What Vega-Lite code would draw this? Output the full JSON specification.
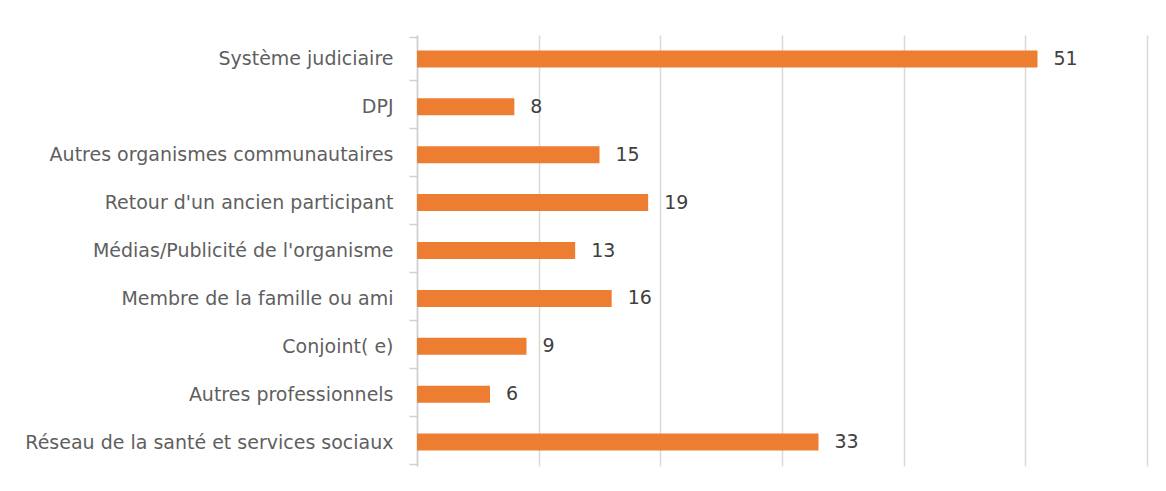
{
  "$schema": "https://vega.github.io/schema/vega-lite/v6.json",
  "width": 730,
  "height": 431,
  "autosize": {"type": "none"},
  "padding": {"left": 417, "top": 35, "right": 19, "bottom": 25},
  "background": "white",
  "config": {"view": {"stroke": null}, "font": "DejaVu Sans"},
  "data": {
    "values": [
      {"source": "Système judiciaire", "count": 51},
      {"source": "DPJ", "count": 8},
      {"source": "Autres organismes communautaires", "count": 15},
      {"source": "Retour d'un ancien participant", "count": 19},
      {"source": "Médias/Publicité de l'organisme", "count": 13},
      {"source": "Membre de la famille ou ami", "count": 16},
      {"source": "Conjoint( e)", "count": 9},
      {"source": "Autres professionnels", "count": 6},
      {"source": "Réseau de la santé et services sociaux", "count": 33}
    ]
  },
  "encoding": {
    "y": {
      "field": "source",
      "type": "nominal",
      "sort": null,
      "title": null,
      "axis": {
        "tickBand": "extent",
        "domainColor": "#d0d0d0",
        "domainWidth": 1.5,
        "tickColor": "#d0d0d0",
        "tickWidth": 1.5,
        "tickSize": 8,
        "labelPadding": 16,
        "labelFontSize": 19,
        "labelColor": "#5f5f5f",
        "labelFont": "DejaVu Sans",
        "labelLimit": 500
      }
    },
    "x": {
      "field": "count",
      "type": "quantitative",
      "scale": {"domain": [0, 60], "nice": false},
      "title": null,
      "axis": {
        "values": [0, 10, 20, 30, 40, 50, 60],
        "grid": true,
        "gridColor": "#d9d9d9",
        "gridWidth": 1.5,
        "labels": false,
        "ticks": false,
        "domain": false
      }
    }
  },
  "layer": [
    {"mark": {"type": "bar", "color": "#ED7D31", "size": 17}},
    {
      "mark": {"type": "text", "align": "left", "baseline": "middle", "dx": 16, "fontSize": 19, "color": "#404040", "font": "DejaVu Sans"},
      "encoding": {"text": {"field": "count", "type": "quantitative"}}
    }
  ]
}
